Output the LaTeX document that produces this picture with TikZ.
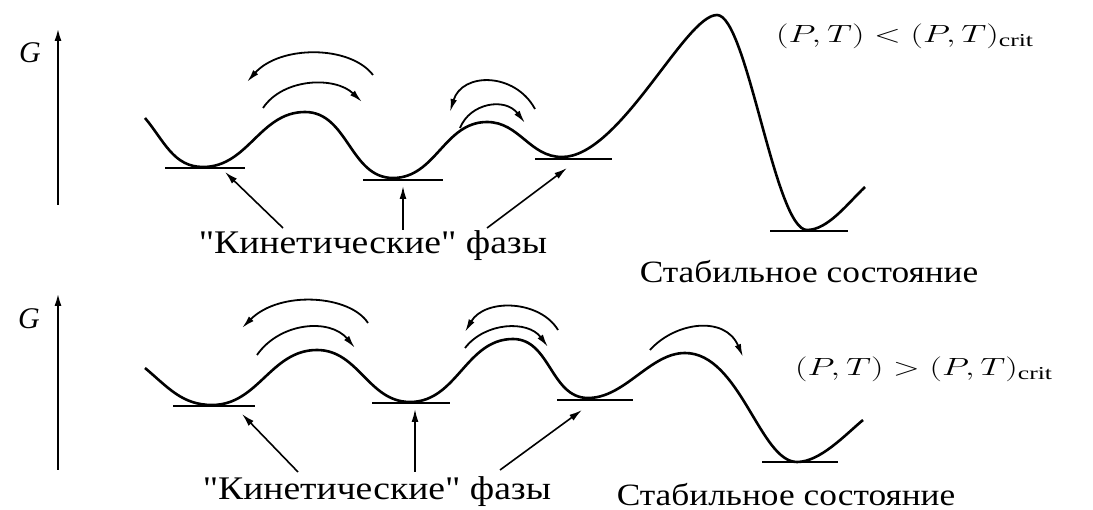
\documentclass[tikz,border=0pt]{standalone}
\usepackage{fontspec}
\setmainfont{Liberation Serif}
\newfontfamily\plainq{Liberation Serif}
\usetikzlibrary{arrows.meta}
\newcommand{\qq}{{\plainq\addfontfeatures{FakeStretch=1.14}\symbol{34}}}
\begin{document}
\begin{tikzpicture}[x=1pt,y=-1pt,
  curve/.style={line width=2.6pt,line join=round},
  level/.style={line width=2.4pt},
  axis/.style={line width=2.2pt,-{Latex[length=13pt,width=7pt]}},
  hop/.style={line width=1.8pt,-{Latex[length=13pt,width=6.5pt]}},
  pointer/.style={line width=1.6pt,-{Latex[length=13pt,width=7pt]}},
  lab/.style={font=\fontsize{33}{33}\selectfont\addfontfeatures{FakeStretch=1.14},inner sep=0pt,anchor=base},
  slab/.style={font=\fontsize{31}{31}\selectfont\addfontfeatures{FakeStretch=1.14},inner sep=0pt,anchor=base},
  mlab/.style={font=\fontsize{26}{26}\selectfont,inner sep=0pt,anchor=base},
  glab/.style={font=\fontsize{30}{30}\selectfont\itshape,inner sep=0pt}]
\useasboundingbox (0,0) rectangle (1093,510);

% ===== top panel =====
\coordinate (ta0) at (58,205);
\coordinate (ta1) at (58,28);
\draw[axis] (ta0) -- (ta1);
\node[glab] (tG) at (30,53) {G};

\draw[curve] (145,118) to[out=-50,in=180] (203,167)
  to[out=0,in=180] (305,112) to[out=0,in=180] (393,178)
  to[out=0,in=180] (487,122) to[out=0,in=180] (562,157)
  .. controls (620,157) and (685,15) .. (717,15)
  .. controls (747,15) and (775,230) .. (807,230)
  .. controls (828,230) and (848,203) .. (865,187);

\coordinate (tl1a) at (165,168); \coordinate (tl1b) at (245,168);
\coordinate (tl2a) at (363,180); \coordinate (tl2b) at (443,180);
\coordinate (tl3a) at (535,159); \coordinate (tl3b) at (612,159);
\coordinate (tl4a) at (770,231); \coordinate (tl4b) at (848,231);
\draw[level] (tl1a) -- (tl1b);
\draw[level] (tl2a) -- (tl2b);
\draw[level] (tl3a) -- (tl3b);
\draw[level] (tl4a) -- (tl4b);

\coordinate (thA0) at (373,75); \coordinate (thA1) at (247,82);
\coordinate (thB0) at (263,108); \coordinate (thB1) at (362,102);
\coordinate (thC0) at (535,109); \coordinate (thC1) at (450,112);
\coordinate (thD0) at (460,128); \coordinate (thD1) at (525,123);
\draw[hop] (thA0) .. controls (350,45) and (280,45) .. (thA1);
\draw[hop] (thB0) .. controls (283,78) and (335,76) .. (thB1);
\draw[hop] (thC0) .. controls (515,72) and (462,72) .. (thC1);
\draw[hop] (thD0) .. controls (470,103) and (505,97) .. (thD1);

\node[lab] (tkin) at (373,254) {\qq Кинетические\qq{} фазы};
\coordinate (tp1) at (283,228); \coordinate (tp1e) at (225,172);
\coordinate (tp2) at (403,230); \coordinate (tp2e) at (403,186);
\coordinate (tp3) at (487,228); \coordinate (tp3e) at (567,168);
\draw[pointer] (tp1) -- (tp1e);
\draw[pointer] (tp2) -- (tp2e);
\draw[pointer] (tp3) -- (tp3e);

\node[slab] (tstab) at (809,283) {Стабильное состояние};
\node[mlab] (tcond) at (905,43) {\scalebox{1.41}[1]{$(P,T)<(P,T)_{\mathrm{crit}}$}};

% ===== bottom panel =====
\coordinate (ba0) at (58,470);
\coordinate (ba1) at (58,293);
\draw[axis] (ba0) -- (ba1);
\node[glab] (bG) at (29,319) {G};

\draw[curve] (145,368) to[out=-40,in=180] (212,405)
  to[out=0,in=180] (317,350) to[out=0,in=180] (410,402)
  to[out=0,in=180] (513,339) to[out=0,in=180] (588,398)
  .. controls (625,398) and (650,353) .. (685,353)
  .. controls (740,353) and (760,462) .. (797,462)
  .. controls (820,462) and (845,435) .. (863,420);

\coordinate (bl1a) at (173,406); \coordinate (bl1b) at (255,406);
\coordinate (bl2a) at (372,403); \coordinate (bl2b) at (450,403);
\coordinate (bl3a) at (557,400); \coordinate (bl3b) at (633,400);
\coordinate (bl4a) at (762,462); \coordinate (bl4b) at (838,462);
\draw[level] (bl1a) -- (bl1b);
\draw[level] (bl2a) -- (bl2b);
\draw[level] (bl3a) -- (bl3b);
\draw[level] (bl4a) -- (bl4b);

\coordinate (bhA0) at (368,323); \coordinate (bhA1) at (242,328);
\coordinate (bhB0) at (257,355); \coordinate (bhB1) at (355,348);
\coordinate (bhC0) at (558,330); \coordinate (bhC1) at (465,332);
\coordinate (bhD0) at (465,348); \coordinate (bhD1) at (548,347);
\coordinate (bhE0) at (650,350); \coordinate (bhE1) at (743,357);
\draw[hop] (bhA0) .. controls (350,295) and (280,290) .. (bhA1);
\draw[hop] (bhB0) .. controls (280,322) and (330,318) .. (bhB1);
\draw[hop] (bhC0) .. controls (540,300) and (485,298) .. (bhC1);
\draw[hop] (bhD0) .. controls (485,322) and (528,320) .. (bhD1);
\draw[hop] (bhE0) .. controls (675,322) and (725,315) .. (bhE1);

\node[lab] (bkin) at (377,500) {\qq Кинетические\qq{} фазы};
\coordinate (bp1) at (298,472); \coordinate (bp1e) at (242,414);
\coordinate (bp2) at (415,472); \coordinate (bp2e) at (415,409);
\coordinate (bp3) at (500,470); \coordinate (bp3e) at (582,410);
\draw[pointer] (bp1) -- (bp1e);
\draw[pointer] (bp2) -- (bp2e);
\draw[pointer] (bp3) -- (bp3e);

\node[slab] (bstab) at (786,505) {Стабильное состояние};
\node[mlab] (bcond) at (924,376) {\scalebox{1.41}[1]{$(P,T)>(P,T)_{\mathrm{crit}}$}};
\end{tikzpicture}
\end{document}
